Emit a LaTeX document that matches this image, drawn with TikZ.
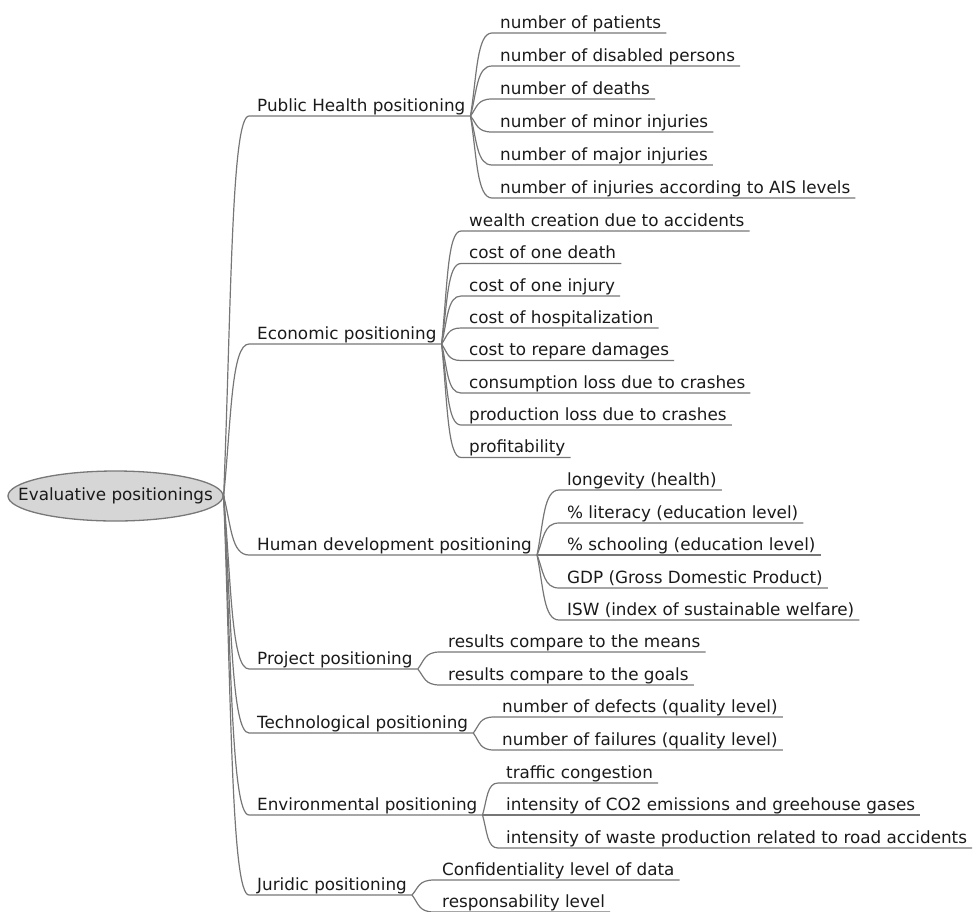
\documentclass[tikz,border=0pt]{standalone}
\usepackage{fontspec}
\setmainfont{DejaVu Sans}
\usetikzlibrary{calc,shapes.geometric}
\definecolor{edgegray}{RGB}{118,118,118}
\definecolor{rootfill}{RGB}{214,214,214}
\definecolor{rootline}{RGB}{120,120,120}
\definecolor{labeltext}{RGB}{26,26,26}
\begin{document}
\begin{tikzpicture}[x=1pt,y=-1pt,
  every node/.style={font=\fontsize{16.8}{20}\selectfont, text=labeltext},
  rootnode/.style={ellipse, draw=rootline, fill=rootfill, line width=1.3pt,
    minimum width=215pt, minimum height=50pt, inner sep=0pt},
  item/.style={anchor=south west, inner xsep=5pt, inner ysep=0pt,
    text height=13pt, text depth=4.5pt},
  conn/.style={draw=edgegray, line width=1.2pt},
  fan/.style={to path={let \p1=(\tikztostart), \p2=(\tikztotarget) in
    .. controls ({\x1+0.3*(\x2-\x1)}, {\y1+0.5*(\y2-\y1)})
       and ({\x1+0.3*(\x2-\x1)}, \y2) .. (\tikztotarget) \tikztonodes}}
]
\useasboundingbox (0,0) rectangle (977,911);

% root
\node[rootnode] (root) at (115.5,496) {\makebox[0pt]{Evaluative positionings}};

% first level
\node[item] (ph)   at (252,116) {Public Health positioning};
\node[item] (eco)  at (252,344) {Economic positioning};
\node[item] (hum)  at (252,555) {Human development positioning};
\node[item] (proj) at (252,669) {Project positioning};
\node[item] (tech) at (252,733) {Technological positioning};
\node[item] (env)  at (252,815) {Environmental positioning};
\node[item] (jur)  at (252,895) {Juridic positioning};

% public health
\node[item] (ph1) at (495,33)  {number of patients};
\node[item] (ph2) at (495,66)  {number of disabled persons};
\node[item] (ph3) at (495,99)  {number of deaths};
\node[item] (ph4) at (495,132) {number of minor injuries};
\node[item] (ph5) at (495,165) {number of major injuries};
\node[item] (ph6) at (495,198) {number of injuries according to AIS levels};

% economic
\node[item] (eco1) at (464,231)   {wealth creation due to accidents};
\node[item] (eco2) at (464,263.5) {cost of one death};
\node[item] (eco3) at (464,296)   {cost of one injury};
\node[item] (eco4) at (464,328)   {cost of hospitalization};
\node[item] (eco5) at (464,360.5) {cost to repare damages};
\node[item] (eco6) at (464,393)   {consumption loss due to crashes};
\node[item] (eco7) at (464,425)   {production loss due to crashes};
\node[item] (eco8) at (464,457.5) {profitability};

% human development
\node[item] (hum1) at (562,490) {longevity (health)};
\node[item] (hum2) at (562,523) {\% literacy (education level)};
\node[item] (hum3) at (562,555) {\% schooling (education level)};
\node[item] (hum4) at (562,588) {GDP (Gross Domestic Product)};
\node[item] (hum5) at (562,620) {ISW (index of sustainable welfare)};

% project
\node[item] (proj1) at (443,652) {results compare to the means};
\node[item] (proj2) at (443,685) {results compare to the goals};

% technological
\node[item] (tech1) at (497,717) {number of defects (quality level)};
\node[item] (tech2) at (497,750) {number of failures (quality level)};

% environmental
\node[item] (env1) at (501,783) {traffic congestion};
\node[item] (env2) at (501,815) {intensity of CO2 emissions and greehouse gases};
\node[item] (env3) at (501,848) {intensity of waste production related to road accidents};

% juridic
\node[item] (jur1) at (437,880) {Confidentiality level of data};
\node[item] (jur2) at (437,912) {responsability level};

% connectors: curve into each label, then its underline
\foreach \c in {ph,eco,hum,proj,tech,env,jur}
  \draw[conn] (root.east) to[fan] ([xshift=-3pt]\c.south west) -- (\c.south east);

\foreach \p/\n in {ph/6,eco/8,hum/5,proj/2,tech/2,env/3,jur/2}
  \foreach \i in {1,...,\n}
    \draw[conn] (\p.south east) to[fan] ([xshift=-3pt]\p\i.south west) -- (\p\i.south east);
\end{tikzpicture}
\end{document}
